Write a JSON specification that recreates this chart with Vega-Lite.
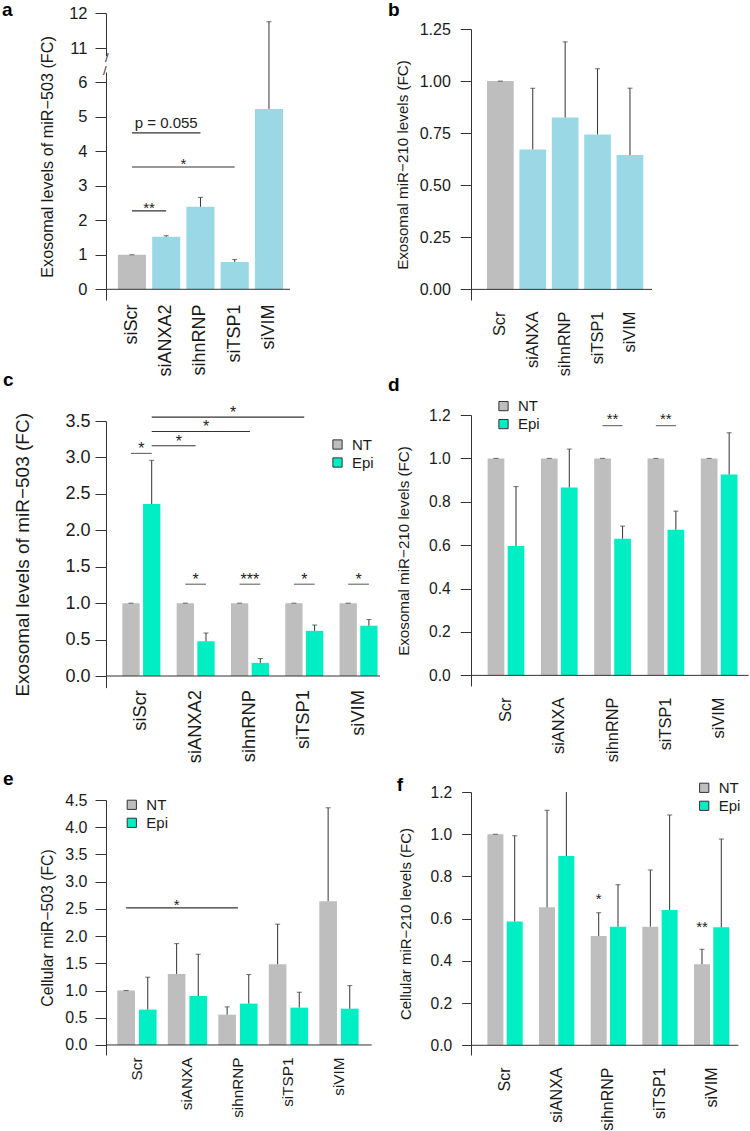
{
"$schema": "https://vega.github.io/schema/vega-lite/v6.json",
"background": "white",
"autosize": {"type": "pad"},
"padding": {"left": 2, "top": 1, "right": 0, "bottom": 0},
"config": {
  "font": "Liberation Sans",
  "view": {"stroke": null},
  "axis": {"grid": false, "domainColor": "#333333", "tickColor": "#333333", "labelColor": "#1a1a1a", "titleColor": "#1a1a1a", "titleFontWeight": "normal", "labelFlush": false, "labelOverlap": false, "labelBound": false, "domainWidth": 1, "tickWidth": 1},
  "legend": {"title": null, "symbolType": "square", "symbolSize": 85, "symbolStrokeColor": "#333333", "symbolStrokeWidth": 1, "labelFontSize": 15, "labelColor": "#1a1a1a", "labelOffset": 7, "rowPadding": 2, "padding": 0, "orient": "none"},
  "title": {"fontWeight": "bold", "fontSize": 19, "anchor": "start", "frame": "group", "offset": 0, "baseline": "alphabetic", "color": "#000000"}
},
"datasets": {
  "a": [
    {"g":"siScr","type":"ctrl","v":1.0,"e":1.0},
    {"g":"siANXA2","type":"si","v":1.52,"e":1.55},
    {"g":"sihnRNP","type":"si","v":2.39,"e":2.66},
    {"g":"siTSP1","type":"si","v":0.79,"e":0.86},
    {"g":"siVIM","type":"si","v":5.22,"e":11.75}
  ],
  "a_ann": [
    {"from":"siScr","to":"siANXA2","y":2.27,"label":"**","at":"siScr","place":"gap"},
    {"from":"siScr","to":"siTSP1","y":3.54,"label":"*","at":"siANXA2","place":"gap"},
    {"from":"siScr","to":"sihnRNP","y":4.53,"label":"p = 0.055","at":"siANXA2","place":"center"}
  ],
  "b": [
    {"g":"Scr","type":"ctrl","v":1.0,"e":1.0},
    {"g":"siANXA","type":"si","v":0.672,"e":0.966},
    {"g":"sihnRNP","type":"si","v":0.825,"e":1.188},
    {"g":"siTSP1","type":"si","v":0.744,"e":1.059},
    {"g":"siVIM","type":"si","v":0.645,"e":0.966}
  ],
  "c": [
    {"g":"siScr","series":"NT","v":1.0,"e":1.0},
    {"g":"siScr","series":"Epi","v":2.36,"e":2.96},
    {"g":"siANXA2","series":"NT","v":1.0,"e":1.0},
    {"g":"siANXA2","series":"Epi","v":0.477,"e":0.59},
    {"g":"sihnRNP","series":"NT","v":1.0,"e":1.0},
    {"g":"sihnRNP","series":"Epi","v":0.18,"e":0.24},
    {"g":"siTSP1","series":"NT","v":1.0,"e":1.0},
    {"g":"siTSP1","series":"Epi","v":0.62,"e":0.70},
    {"g":"siVIM","series":"NT","v":1.0,"e":1.0},
    {"g":"siVIM","series":"Epi","v":0.69,"e":0.775}
  ],
  "c_ann": [
    {"from":"siScr","to":"siANXA2","series":"Epi","y":3.16,"label":"*","at":"siScr","place":"gap"},
    {"from":"siScr","to":"sihnRNP","series":"Epi","y":3.356,"label":"*","at":"siANXA2","place":"center"},
    {"from":"siScr","to":"siTSP1","series":"Epi","y":3.554,"label":"*","at":"siANXA2","place":"gap"}
  ],
  "c_pair": [
    {"g":"siScr","y":3.055,"label":"*"},
    {"g":"siANXA2","y":1.26,"label":"*"},
    {"g":"sihnRNP","y":1.26,"label":"***"},
    {"g":"siTSP1","y":1.26,"label":"*"},
    {"g":"siVIM","y":1.26,"label":"*"}
  ],
  "d": [
    {"g":"Scr","series":"NT","v":1.0,"e":1.0},
    {"g":"Scr","series":"Epi","v":0.596,"e":0.87},
    {"g":"siANXA","series":"NT","v":1.0,"e":1.0},
    {"g":"siANXA","series":"Epi","v":0.866,"e":1.043},
    {"g":"sihnRNP","series":"NT","v":1.0,"e":1.0},
    {"g":"sihnRNP","series":"Epi","v":0.63,"e":0.688},
    {"g":"siTSP1","series":"NT","v":1.0,"e":1.0},
    {"g":"siTSP1","series":"Epi","v":0.671,"e":0.757},
    {"g":"siVIM","series":"NT","v":1.0,"e":1.0},
    {"g":"siVIM","series":"Epi","v":0.926,"e":1.118}
  ],
  "d_pair": [
    {"g":"sihnRNP","y":1.151,"label":"**"},
    {"g":"siTSP1","y":1.151,"label":"**"}
  ],
  "e": [
    {"g":"Scr","series":"NT","v":1.0,"e":1.0},
    {"g":"Scr","series":"Epi","v":0.65,"e":1.245},
    {"g":"siANXA","series":"NT","v":1.305,"e":1.862},
    {"g":"siANXA","series":"Epi","v":0.90,"e":1.667},
    {"g":"sihnRNP","series":"NT","v":0.557,"e":0.70},
    {"g":"sihnRNP","series":"Epi","v":0.76,"e":1.293},
    {"g":"siTSP1","series":"NT","v":1.483,"e":2.219},
    {"g":"siTSP1","series":"Epi","v":0.686,"e":0.969},
    {"g":"siVIM","series":"NT","v":2.641,"e":4.357},
    {"g":"siVIM","series":"Epi","v":0.667,"e":1.09}
  ],
  "e_ann": [
    {"from":"Scr","to":"sihnRNP","series":"NT","y":2.518,"label":"*","at":"siANXA","place":"center"}
  ],
  "f": [
    {"g":"Scr","series":"NT","v":1.0,"e":1.0},
    {"g":"Scr","series":"Epi","v":0.587,"e":0.993},
    {"g":"siANXA","series":"NT","v":0.654,"e":1.113},
    {"g":"siANXA","series":"Epi","v":0.897,"e":1.25},
    {"g":"sihnRNP","series":"NT","v":0.518,"e":0.628},
    {"g":"sihnRNP","series":"Epi","v":0.562,"e":0.761},
    {"g":"siTSP1","series":"NT","v":0.562,"e":0.830},
    {"g":"siTSP1","series":"Epi","v":0.641,"e":1.091},
    {"g":"siVIM","series":"NT","v":0.384,"e":0.455},
    {"g":"siVIM","series":"Epi","v":0.559,"e":0.977}
  ],
  "f_ann": [
    {"g":"sihnRNP","series":"NT","y":0.679,"label":"*"},
    {"g":"siVIM","series":"NT","y":0.546,"label":"**"}
  ]
},
"bounds": "full",
"spacing": 7,
"resolve": {"scale": {"color": "independent", "xOffset": "independent"}, "legend": {"color": "independent"}},
"hconcat": [
 {
  "bounds": "flush", "spacing": 0,
  "resolve": {"scale": {"color": "independent", "xOffset": "independent"}, "legend": {"color": "independent"}},
  "vconcat": [
   {
    "width": 184, "height": 287,
    "title": {"text": "a", "dx": -104, "dy": 19},
    "layer": [
     {"data": {"name": "a"}, "mark": {"type": "bar"},
      "encoding": {
       "x": {"field": "g", "type": "nominal", "scale": {"domain": ["siScr","siANXA2","sihnRNP","siTSP1","siVIM"], "paddingInner": 0.18, "paddingOuter": 0.276, "align": 0.63},
             "axis": {"title": null, "domain": false, "ticks": false, "labelAngle": -90, "labelPadding": 4, "labelFontSize": 18}},
       "y": {"field": "v", "type": "quantitative", "scale": {"domain": [-0.31, 6, 11, 12], "range": [287, 69, 35, 0], "nice": false, "zero": false},
             "axis": {"title": "Exosomal levels of miR−503 (FC)", "values": [0,1,2,3,4,5,6,11,12], "format": "d", "tickCount": 30, "tickSize": 11, "labelPadding": 8, "labelFontSize": 16.5, "titleFontSize": 16.2, "titlePadding": 13}},
       "y2": {"datum": 0},
       "color": {"field": "type", "type": "nominal", "scale": {"domain": ["ctrl","si"], "range": ["#bebebe","#9ad8e6"]}, "legend": null}
      }},
     {"data": {"name": "a"}, "mark": {"type": "rule", "color": "#333333"},
      "encoding": {"x": {"field": "g", "type": "nominal"}, "y": {"field": "v", "type": "quantitative"}, "y2": {"field": "e"}}},
     {"data": {"name": "a"}, "mark": {"type": "tick", "color": "#333333", "size": 5, "thickness": 1},
      "encoding": {"x": {"field": "g", "type": "nominal"}, "y": {"field": "e", "type": "quantitative"}}},
     {"data": {"values": [{}]}, "mark": {"type": "rule", "color": "#333333"}, "encoding": {"y": {"datum": 0}}},
     {"data": {"values": [{}]}, "mark": {"type": "rule", "color": "white", "strokeWidth": 4, "xOffset": -11.9},
      "encoding": {"x": {"datum": "siScr", "bandPosition": 0}, "y": {"datum": 9.8}, "y2": {"datum": 7.4}}},
     {"data": {"values": [{}]}, "mark": {"type": "text", "text": "/", "fontSize": 13, "color": "#333333", "dx": -11.2},
      "encoding": {"x": {"datum": "siScr", "bandPosition": 0}, "y": {"datum": 9.55}}},
     {"data": {"values": [{}]}, "mark": {"type": "text", "text": "/", "fontSize": 13, "color": "#333333", "dx": -13.0},
      "encoding": {"x": {"datum": "siScr", "bandPosition": 0}, "y": {"datum": 7.6}}},
     {"data": {"name": "a_ann"}, "mark": {"type": "rule", "color": "#333333", "strokeWidth": 1.2},
      "encoding": {"x": {"field": "from", "type": "nominal"}, "x2": {"field": "to"}, "y": {"field": "y", "type": "quantitative"}}},
     {"data": {"name": "a_ann"}, "transform": [{"filter": "datum.place === 'gap'"}],
      "mark": {"type": "text", "dx": 17.1, "dy": 2, "fontSize": 15, "baseline": "alphabetic", "color": "#222222"},
      "encoding": {"x": {"field": "at", "type": "nominal"}, "y": {"field": "y", "type": "quantitative"}, "text": {"field": "label"}}},
     {"data": {"name": "a_ann"}, "transform": [{"filter": "datum.place === 'center'"}],
      "mark": {"type": "text", "dy": -4.6, "fontSize": 15, "baseline": "alphabetic", "color": "#222222"},
      "encoding": {"x": {"field": "at", "type": "nominal"}, "y": {"field": "y", "type": "quantitative"}, "text": {"field": "label"}}}
    ]
   },
   {"width": 1, "height": 120.7, "data": {"values": []}, "mark": "point"},
   {
    "width": 274, "height": 266.6,
    "title": {"text": "c", "dx": -103, "dy": -10.7},
    "layer": [
     {"data": {"name": "c"}, "mark": {"type": "bar"},
      "encoding": {
       "x": {"field": "g", "type": "nominal", "scale": {"domain": ["siScr","siANXA2","sihnRNP","siTSP1","siVIM"], "paddingInner": 0.30, "paddingOuter": 0.173, "align": 0.87},
             "axis": {"title": null, "domain": false, "ticks": false, "labelAngle": -90, "labelPadding": 2, "labelFontSize": 18.3}},
       "xOffset": {"field": "series", "type": "nominal", "scale": {"domain": ["NT","Epi"], "paddingInner": 0.164, "paddingOuter": 0}},
       "y": {"field": "v", "type": "quantitative", "scale": {"domain": [-0.159, 3.5], "nice": false, "zero": false},
             "axis": {"title": "Exosomal levels of miR−503 (FC)", "values": [0,0.5,1,1.5,2,2.5,3,3.5], "tickCount": 30, "format": ".1f", "tickSize": 11, "labelPadding": 5, "labelFontSize": 18, "titleFontSize": 19, "titlePadding": 32.5}},
       "y2": {"datum": 0},
       "color": {"field": "series", "type": "nominal", "scale": {"domain": ["NT","Epi"], "range": ["#bebebe","#00eec3"]},
                 "legend": {"legendX": 224, "legendY": 16, "labelFontSize": 15}}
      }},
     {"data": {"name": "c"}, "mark": {"type": "rule", "color": "#333333"},
      "encoding": {"x": {"field": "g", "type": "nominal"}, "xOffset": {"field": "series", "type": "nominal"}, "y": {"field": "v", "type": "quantitative"}, "y2": {"field": "e"}}},
     {"data": {"name": "c"}, "mark": {"type": "tick", "color": "#333333", "size": 5, "thickness": 1},
      "encoding": {"x": {"field": "g", "type": "nominal"}, "xOffset": {"field": "series", "type": "nominal"}, "y": {"field": "e", "type": "quantitative"}}},
     {"data": {"values": [{}]}, "mark": {"type": "rule", "color": "#333333"}, "encoding": {"y": {"datum": 0}}},
     {"data": {"name": "c_ann"}, "mark": {"type": "rule", "color": "#333333", "strokeWidth": 1.2},
      "encoding": {"x": {"field": "from", "type": "nominal"}, "x2": {"field": "to"}, "xOffset": {"field": "series", "type": "nominal"}, "y": {"field": "y", "type": "quantitative"}}},
     {"data": {"name": "c_ann"}, "transform": [{"filter": "datum.place === 'gap'"}],
      "mark": {"type": "text", "dx": 27.15, "dy": 1, "fontSize": 16, "baseline": "alphabetic", "color": "#222222"},
      "encoding": {"x": {"field": "at", "type": "nominal"}, "xOffset": {"field": "series", "type": "nominal"}, "y": {"field": "y", "type": "quantitative"}, "text": {"field": "label"}}},
     {"data": {"name": "c_ann"}, "transform": [{"filter": "datum.place === 'center'"}],
      "mark": {"type": "text", "dy": 1, "fontSize": 16, "baseline": "alphabetic", "color": "#222222"},
      "encoding": {"x": {"field": "at", "type": "nominal"}, "xOffset": {"field": "series", "type": "nominal"}, "y": {"field": "y", "type": "quantitative"}, "text": {"field": "label"}}},
     {"data": {"name": "c_pair"}, "mark": {"type": "tick", "color": "#333333", "size": 20.7, "thickness": 1.2},
      "encoding": {"x": {"field": "g", "type": "nominal"}, "y": {"field": "y", "type": "quantitative"}}},
     {"data": {"name": "c_pair"}, "mark": {"type": "text", "dy": 1, "fontSize": 16, "baseline": "alphabetic", "color": "#222222"},
      "encoding": {"x": {"field": "g", "type": "nominal"}, "y": {"field": "y", "type": "quantitative"}, "text": {"field": "label"}}}
    ]
   },
   {"width": 1, "height": 111.7, "data": {"values": []}, "mark": "point"},
   {
    "width": 265.7, "height": 255,
    "title": {"text": "e", "dx": -103, "dy": 0.8},
    "layer": [
     {"data": {"name": "e"}, "mark": {"type": "bar"},
      "encoding": {
       "x": {"field": "g", "type": "nominal", "scale": {"domain": ["Scr","siANXA","sihnRNP","siTSP1","siVIM"], "paddingInner": 0.222, "paddingOuter": 0.2417, "align": 0.463},
             "axis": {"title": null, "domain": false, "ticks": false, "labelAngle": -90, "labelPadding": 2, "labelFontSize": 15.3}},
       "xOffset": {"field": "series", "type": "nominal", "scale": {"domain": ["NT","Epi"], "paddingInner": 0.184, "paddingOuter": 0}},
       "y": {"field": "v", "type": "quantitative", "scale": {"domain": [-0.184, 4.5], "nice": false, "zero": false},
             "axis": {"title": "Cellular miR−503 (FC)", "values": [0,0.5,1,1.5,2,2.5,3,3.5,4,4.5], "tickCount": 30, "format": ".1f", "tickSize": 11, "labelPadding": 8, "labelFontSize": 16, "titleFontSize": 15.8, "titlePadding": 9.4}},
       "y2": {"datum": 0},
       "color": {"field": "series", "type": "nominal", "scale": {"domain": ["NT","Epi"], "range": ["#bebebe","#00eec3"]},
                 "legend": {"legendX": 18.3, "legendY": -2.7}}
      }},
     {"data": {"name": "e"}, "mark": {"type": "rule", "color": "#333333"},
      "encoding": {"x": {"field": "g", "type": "nominal"}, "xOffset": {"field": "series", "type": "nominal"}, "y": {"field": "v", "type": "quantitative"}, "y2": {"field": "e"}}},
     {"data": {"name": "e"}, "mark": {"type": "tick", "color": "#333333", "size": 5, "thickness": 1},
      "encoding": {"x": {"field": "g", "type": "nominal"}, "xOffset": {"field": "series", "type": "nominal"}, "y": {"field": "e", "type": "quantitative"}}},
     {"data": {"values": [{}]}, "mark": {"type": "rule", "color": "#333333"}, "encoding": {"y": {"datum": 0}}},
     {"data": {"name": "e_ann"}, "mark": {"type": "rule", "color": "#333333", "strokeWidth": 1.2},
      "encoding": {"x": {"field": "from", "type": "nominal"}, "x2": {"field": "to"}, "xOffset": {"field": "series", "type": "nominal"}, "y": {"field": "y", "type": "quantitative"}}},
     {"data": {"name": "e_ann"}, "mark": {"type": "text", "dy": 2, "fontSize": 15, "baseline": "alphabetic", "color": "#222222"},
      "encoding": {"x": {"field": "at", "type": "nominal"}, "xOffset": {"field": "series", "type": "nominal"}, "y": {"field": "y", "type": "quantitative"}, "text": {"field": "label"}}}
    ]
   }
  ]
 },
 {
  "bounds": "flush", "spacing": 0,
  "resolve": {"scale": {"color": "independent", "xOffset": "independent"}, "legend": {"color": "independent"}},
  "vconcat": [
   {"width": 1, "height": 16, "data": {"values": []}, "mark": "point"},
   {
    "width": 181, "height": 271,
    "title": {"text": "b", "dx": -83, "dy": 3},
    "layer": [
     {"data": {"name": "b"}, "mark": {"type": "bar"},
      "encoding": {
       "x": {"field": "g", "type": "nominal", "scale": {"domain": ["Scr","siANXA","sihnRNP","siTSP1","siVIM"], "paddingInner": 0.176, "paddingOuter": 0.381, "align": 0.648},
             "axis": {"title": null, "domain": false, "ticks": false, "labelAngle": -90, "labelPadding": 11, "labelFontSize": 16.4}},
       "y": {"field": "v", "type": "quantitative", "scale": {"domain": [-0.051, 1.25], "nice": false, "zero": false},
             "axis": {"title": "Exosomal miR−210 levels (FC)", "values": [0,0.25,0.5,0.75,1,1.25], "tickCount": 30, "format": ".2f", "tickSize": 10.7, "labelPadding": 10, "labelFontSize": 16, "titleFontSize": 15.2, "titlePadding": 8.3}},
       "y2": {"datum": 0},
       "color": {"field": "type", "type": "nominal", "scale": {"domain": ["ctrl","si"], "range": ["#bebebe","#9ad8e6"]}, "legend": null}
      }},
     {"data": {"name": "b"}, "mark": {"type": "rule", "color": "#333333"},
      "encoding": {"x": {"field": "g", "type": "nominal"}, "y": {"field": "v", "type": "quantitative"}, "y2": {"field": "e"}}},
     {"data": {"name": "b"}, "mark": {"type": "tick", "color": "#333333", "size": 5, "thickness": 1},
      "encoding": {"x": {"field": "g", "type": "nominal"}, "y": {"field": "e", "type": "quantitative"}}},
     {"data": {"values": [{}]}, "mark": {"type": "rule", "color": "#333333"}, "encoding": {"y": {"datum": 0}}}
    ]
   },
   {"width": 1, "height": 114.7, "data": {"values": []}, "mark": "point"},
   {
    "width": 277.6, "height": 271,
    "title": {"text": "d", "dx": -83, "dy": 0.6},
    "layer": [
     {"data": {"name": "d"}, "mark": {"type": "bar"},
      "encoding": {
       "x": {"field": "g", "type": "nominal", "scale": {"domain": ["Scr","siANXA","sihnRNP","siTSP1","siVIM"], "paddingInner": 0.311, "paddingOuter": 0.26, "align": 0.6},
             "axis": {"title": null, "domain": false, "ticks": false, "labelAngle": -90, "labelPadding": 11, "labelFontSize": 16.4}},
       "xOffset": {"field": "series", "type": "nominal", "scale": {"domain": ["NT","Epi"], "paddingInner": 0.165, "paddingOuter": 0}},
       "y": {"field": "v", "type": "quantitative", "scale": {"domain": [-0.049, 1.2], "nice": false, "zero": false},
             "axis": {"title": "Exosomal miR−210 levels (FC)", "values": [0,0.2,0.4,0.6,0.8,1,1.2], "tickCount": 30, "format": ".1f", "tickSize": 10.7, "labelPadding": 10, "labelFontSize": 15.6, "titleFontSize": 15.2, "titlePadding": 17.4}},
       "y2": {"datum": 0},
       "color": {"field": "series", "type": "nominal", "scale": {"domain": ["NT","Epi"], "range": ["#bebebe","#00eec3"]},
                 "legend": {"legendX": 25, "legendY": -16.4}}
      }},
     {"data": {"name": "d"}, "mark": {"type": "rule", "color": "#333333"},
      "encoding": {"x": {"field": "g", "type": "nominal"}, "xOffset": {"field": "series", "type": "nominal"}, "y": {"field": "v", "type": "quantitative"}, "y2": {"field": "e"}}},
     {"data": {"name": "d"}, "mark": {"type": "tick", "color": "#333333", "size": 5, "thickness": 1},
      "encoding": {"x": {"field": "g", "type": "nominal"}, "xOffset": {"field": "series", "type": "nominal"}, "y": {"field": "e", "type": "quantitative"}}},
     {"data": {"values": [{}]}, "mark": {"type": "rule", "color": "#333333"}, "encoding": {"y": {"datum": 0}}},
     {"data": {"name": "d_pair"}, "mark": {"type": "tick", "color": "#333333", "size": 20, "thickness": 1.2},
      "encoding": {"x": {"field": "g", "type": "nominal"}, "y": {"field": "y", "type": "quantitative"}}},
     {"data": {"name": "d_pair"}, "mark": {"type": "text", "dy": -2, "fontSize": 15, "baseline": "alphabetic", "color": "#222222"},
      "encoding": {"x": {"field": "g", "type": "nominal"}, "y": {"field": "y", "type": "quantitative"}, "text": {"field": "label"}}}
    ]
   },
   {"width": 1, "height": 105.3, "data": {"values": []}, "mark": "point"},
   {
    "width": 267.4, "height": 263,
    "title": {"text": "f", "dx": -74.3, "dy": 19},
    "layer": [
     {"data": {"name": "f"}, "mark": {"type": "bar"},
      "encoding": {
       "x": {"field": "g", "type": "nominal", "scale": {"domain": ["Scr","siANXA","sihnRNP","siTSP1","siVIM"], "paddingInner": 0.3166, "paddingOuter": 0.247, "align": 0.643},
             "axis": {"title": null, "domain": false, "ticks": false, "labelAngle": -90, "labelPadding": 12, "labelFontSize": 16}},
       "xOffset": {"field": "series", "type": "nominal", "scale": {"domain": ["NT","Epi"], "paddingInner": 0.171, "paddingOuter": 0}},
       "y": {"field": "v", "type": "quantitative", "scale": {"domain": [-0.046, 1.2], "nice": false, "zero": false},
             "axis": {"title": "Cellular miR−210 levels (FC)", "values": [0,0.2,0.4,0.6,0.8,1,1.2], "tickCount": 30, "format": ".1f", "tickSize": 9.3, "labelPadding": 10, "labelFontSize": 15.6, "titleFontSize": 15, "titlePadding": 16.8}},
       "y2": {"datum": 0},
       "color": {"field": "series", "type": "nominal", "scale": {"domain": ["NT","Epi"], "range": ["#bebebe","#00eec3"]},
                 "legend": {"legendX": 225.7, "legendY": -11.7}}
      }},
     {"data": {"name": "f"}, "mark": {"type": "rule", "color": "#333333", "clip": true},
      "encoding": {"x": {"field": "g", "type": "nominal"}, "xOffset": {"field": "series", "type": "nominal"}, "y": {"field": "v", "type": "quantitative"}, "y2": {"field": "e"}}},
     {"data": {"name": "f"}, "mark": {"type": "tick", "color": "#333333", "size": 5, "thickness": 1, "clip": true},
      "encoding": {"x": {"field": "g", "type": "nominal"}, "xOffset": {"field": "series", "type": "nominal"}, "y": {"field": "e", "type": "quantitative"}}},
     {"data": {"values": [{}]}, "mark": {"type": "rule", "color": "#333333"}, "encoding": {"y": {"datum": 0}}},
     {"data": {"name": "f_ann"}, "mark": {"type": "text", "dy": 2, "fontSize": 15, "baseline": "alphabetic", "color": "#222222"},
      "encoding": {"x": {"field": "g", "type": "nominal"}, "xOffset": {"field": "series", "type": "nominal"}, "y": {"field": "y", "type": "quantitative"}, "text": {"field": "label"}}}
    ]
   }
  ]
 }
]
}
